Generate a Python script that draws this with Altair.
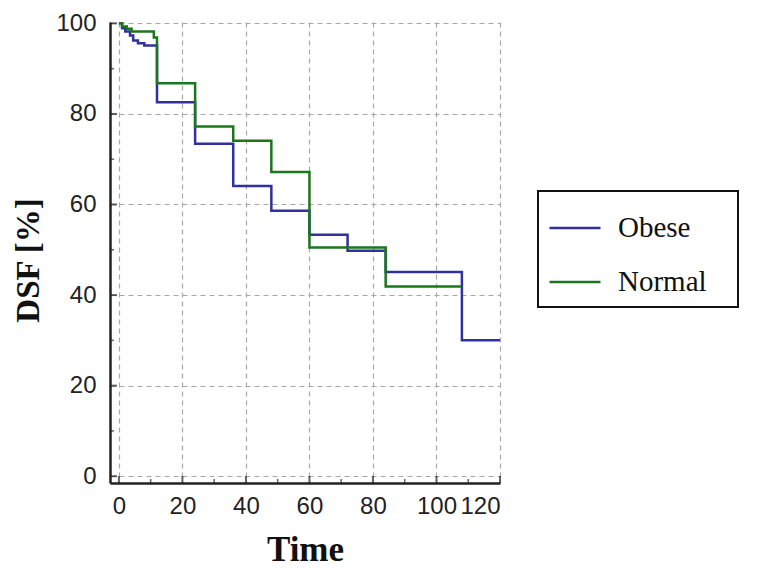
import altair as alt
import pandas as pd

# ---- data ----
series_names = ["Obese", "Normal"]
series_colors = ["#30309e", "#1c761c"]

obese_time = [0, 1, 2, 3.5, 4.5, 6, 8, 12, 24, 36, 48, 60, 72, 84, 108, 120]
obese_dsf = [100, 98.9, 98.2, 97.3, 96.2, 95.6, 95.1, 82.6, 73.4, 64.1, 58.6, 53.3, 49.8, 45.1, 30.0, 30.0]

normal_time = [0, 1, 2.5, 4, 11, 12, 24, 36, 48, 60, 84, 108]
normal_dsf = [100, 99.3, 98.8, 98.2, 96.9, 86.8, 77.2, 74.1, 67.2, 50.5, 41.9, 41.9]

x_ticks = [0, 20, 40, 60, 80, 100, 120]
y_ticks = [0, 20, 40, 60, 80, 100]
x_minor = [10, 30, 50, 70, 90, 110]
y_minor = [10, 30, 50, 70, 90]

x_min, x_max = -2.8, 120
y_min, y_max = -1.5, 100.3

df = pd.concat([
    pd.DataFrame({"Time": obese_time, "DSF": obese_dsf, "Group": series_names[0]}),
    pd.DataFrame({"Time": normal_time, "DSF": normal_dsf, "Group": series_names[1]}),
], ignore_index=True)

x_enc = alt.X(
    "Time:Q",
    scale=alt.Scale(domain=[x_min, x_max], nice=False, zero=False),
    axis=alt.Axis(values=x_ticks, title="Time", labelPadding=11, titlePadding=14, titleFontSize=35),
)
y_enc = alt.Y(
    "DSF:Q",
    scale=alt.Scale(domain=[y_min, y_max], nice=False, zero=False),
    axis=alt.Axis(values=y_ticks, title="DSF [%]", labelPadding=14, titlePadding=10, titleY=238),
)
spacer = "\u2800"
color_enc = alt.Color(
    "Group:N",
    scale=alt.Scale(domain=series_names, range=series_colors),
    legend=alt.Legend(
        title=None,
        orient="none",
        legendX=428,
        legendY=169,
        symbolType="stroke",
        symbolSize=2601,
        symbolStrokeWidth=2.5,
        labelFont="Liberation Serif",
        labelFontSize=29,
        labelColor="#111111",
        labelOffset=16,
        labelLimit=220,
        labelExpr="datum.label + '" + spacer + "'",
        padding=10,
        rowPadding=12,
        strokeColor="#111111",
    ),
)

base = alt.Chart(df).encode(x=x_enc, y=y_enc, color=color_enc)

obese_layer = base.transform_filter(alt.datum.Group == series_names[0]).mark_line(
    interpolate="step-after", strokeWidth=2.5
)
normal_layer = base.transform_filter(alt.datum.Group == series_names[1]).mark_line(
    interpolate="step-after", strokeWidth=2.5
)

# inward axis ticks (major and minor)
xt_major = alt.Chart(pd.DataFrame({"Time": x_ticks})).mark_tick(
    orient="vertical", size=7, thickness=2, yOffset=-3.5, color="#222222"
).encode(x=x_enc, y=alt.datum(y_min))
xt_minor = alt.Chart(pd.DataFrame({"Time": x_minor})).mark_tick(
    orient="vertical", size=4, thickness=1.5, yOffset=-2, color="#222222"
).encode(x=x_enc, y=alt.datum(y_min))
yt_major = alt.Chart(pd.DataFrame({"DSF": y_ticks})).mark_tick(
    orient="horizontal", size=7, thickness=2, xOffset=3.5, color="#222222"
).encode(y=y_enc, x=alt.datum(x_min))
yt_minor = alt.Chart(pd.DataFrame({"DSF": y_minor})).mark_tick(
    orient="horizontal", size=4, thickness=1.5, xOffset=2, color="#222222"
).encode(y=y_enc, x=alt.datum(x_min))

chart = (
    alt.layer(xt_major, xt_minor, yt_major, yt_minor, obese_layer, normal_layer)
    .properties(
        width=390,
        height=461,
        autosize=alt.AutoSizeParams(type="none"),
        padding={"left": 102, "top": 14, "right": 269, "bottom": 84},
        background="white",
    )
    .configure_view(strokeWidth=0)
    .configure_legend(strokeWidth=2)
    .configure_axis(
        domainColor="#222222",
        domainWidth=2.5,
        grid=True,
        gridColor="#a8a8a8",
        gridDash=[5, 4],
        gridWidth=1.2,
        ticks=False,
        labelFont="Liberation Sans",
        labelFontSize=24,
        labelColor="#222222",
        titleFont="Liberation Serif",
        titleFontSize=33,
        titleFontWeight="bold",
        titleColor="#111111",
    )
)

chart.save("out.html", embed_options={"renderer": "svg", "actions": False})
